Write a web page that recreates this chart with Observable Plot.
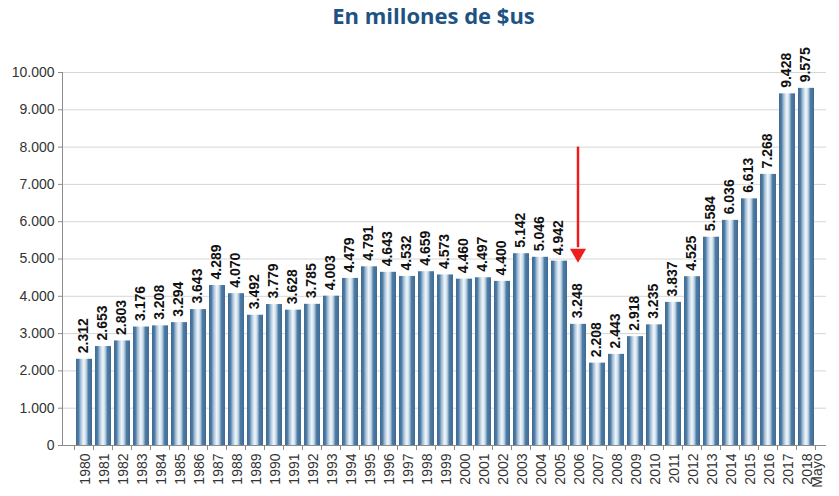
<!DOCTYPE html>
<html><head><meta charset="utf-8">
<script src="https://cdn.jsdelivr.net/npm/d3@7"></script>
<script src="https://cdn.jsdelivr.net/npm/@observablehq/plot@0.6"></script>
<style>
body{margin:0;background:#fff;}
#title{height:40px;line-height:40px;font:700 22px "Open Sans",sans-serif;color:#1d5382;text-align:center;padding-left:28px;box-sizing:border-box;}
</style></head><body>
<div id="title">En millones de $us</div>
<div id="chart"></div>
<script>
const years = ["1980","1981","1982","1983","1984","1985","1986","1987","1988","1989","1990","1991","1992","1993","1994","1995","1996","1997","1998","1999","2000","2001","2002","2003","2004","2005","2006","2007","2008","2009","2010","2011","2012","2013","2014","2015","2016","2017","2018"];
const values = [2312,2653,2803,3176,3208,3294,3643,4289,4070,3492,3779,3628,3785,4003,4479,4791,4643,4532,4659,4573,4460,4497,4400,5142,5046,4942,3248,2208,2443,2918,3235,3837,4525,5584,6036,6613,7268,9428,9575];
const yTicks = [0,1000,2000,3000,4000,5000,6000,7000,8000,9000,10000];
const lastNote = [{year:"2018", note:"Mayo"}];
const arrow = [{year:"2006", from:8000, to:5300, head:5150}];

const data = years.map((year, i) => ({year, value: values[i]}));
const fmt = d3.formatLocale({decimal:",", thousands:".", grouping:[3], currency:["$",""]}).format(",");

const defs = () => {
  const s = d3.create("svg:defs");
  const g = s.append("linearGradient").attr("id","barGrad").attr("x1",0).attr("x2",1).attr("y1",0).attr("y2",0);
  [[0,"#3d6b94"],[0.15,"#4d7aa3"],[0.3,"#a9c3da"],[0.48,"#f1f6fb"],[0.62,"#c9dbea"],[0.78,"#4f7ca5"],[1,"#3d6b94"]].forEach(([o,c]) =>
    g.append("stop").attr("offset",o).attr("stop-color",c));
  return s.node();
};

const axisLines = (index, scales, values, dim) => {
  const g = d3.create("svg:g").attr("stroke","#8c8c8c").attr("stroke-width",1);
  const x0 = dim.marginLeft, x1 = dim.width - dim.marginRight;
  const yb = dim.height - dim.marginBottom, yt = dim.marginTop;
  g.append("line").attr("x1",x0+0.5).attr("x2",x0+0.5).attr("y1",yt).attr("y2",yb);
  g.append("line").attr("x1",x0).attr("x2",x1).attr("y1",yb+0.5).attr("y2",yb+0.5);
  const bw = scales.x.bandwidth();
  const bounds = years.map(y => scales.x(y)).concat([scales.x(years[years.length-1]) + bw]);
  bounds.forEach(b => g.append("line").attr("x1",b+0.5).attr("x2",b+0.5).attr("y1",yb).attr("y2",yb+5));
  return g.node();
};

const chart = Plot.plot({
  width: 839,
  height: 456,
  marginTop: 32,
  marginBottom: 51,
  marginLeft: 62,
  marginRight: 13,
  style: {fontFamily: "'Liberation Sans', Arial, sans-serif", fontSize: "13px", background: "#fff"},
  x: {type: "band", domain: years, padding: 0, label: null},
  y: {domain: [0, 10000], label: null},
  marks: [
    defs,
    Plot.gridY(yTicks, {stroke: "#d6d6d6", strokeOpacity: 1}),
    Plot.barY(data, {x: "year", y: "value", fill: "url(#barGrad)", insetLeft: 2, insetRight: 1}),
    axisLines,
    Plot.axisY({ticks: yTicks, tickFormat: fmt, tickSize: 4, tickPadding: 4, fontSize: 14, fill: "#333", stroke: "#8c8c8c", label: null}),
    Plot.axisX({tickSize: 0, tickRotate: -90, tickPadding: 8, fontSize: 14, fill: "#333", dx: 1.5, label: null}),
    Plot.text(lastNote, {x: "year", frameAnchor: "bottom", text: "note", rotate: -90, textAnchor: "end", dy: 8, dx: 16, fontSize: 14, fill: "#333"}),
    Plot.text(data, {x: "year", y: "value", text: d => fmt(d.value), rotate: -90, textAnchor: "start", dy: -6, fontWeight: "bold", fontSize: 14, fill: "#111"}),
    Plot.ruleX(arrow, {x: "year", y1: "from", y2: "to", stroke: "#ee1c1c", strokeWidth: 2.5}),
    Plot.dot(arrow, {x: "year", y: "head", symbol: "triangle", r: 6, rotate: 180, fill: "#ee1c1c", stroke: null})
  ]
});
document.getElementById("chart").appendChild(chart);
</script>
</body></html>
